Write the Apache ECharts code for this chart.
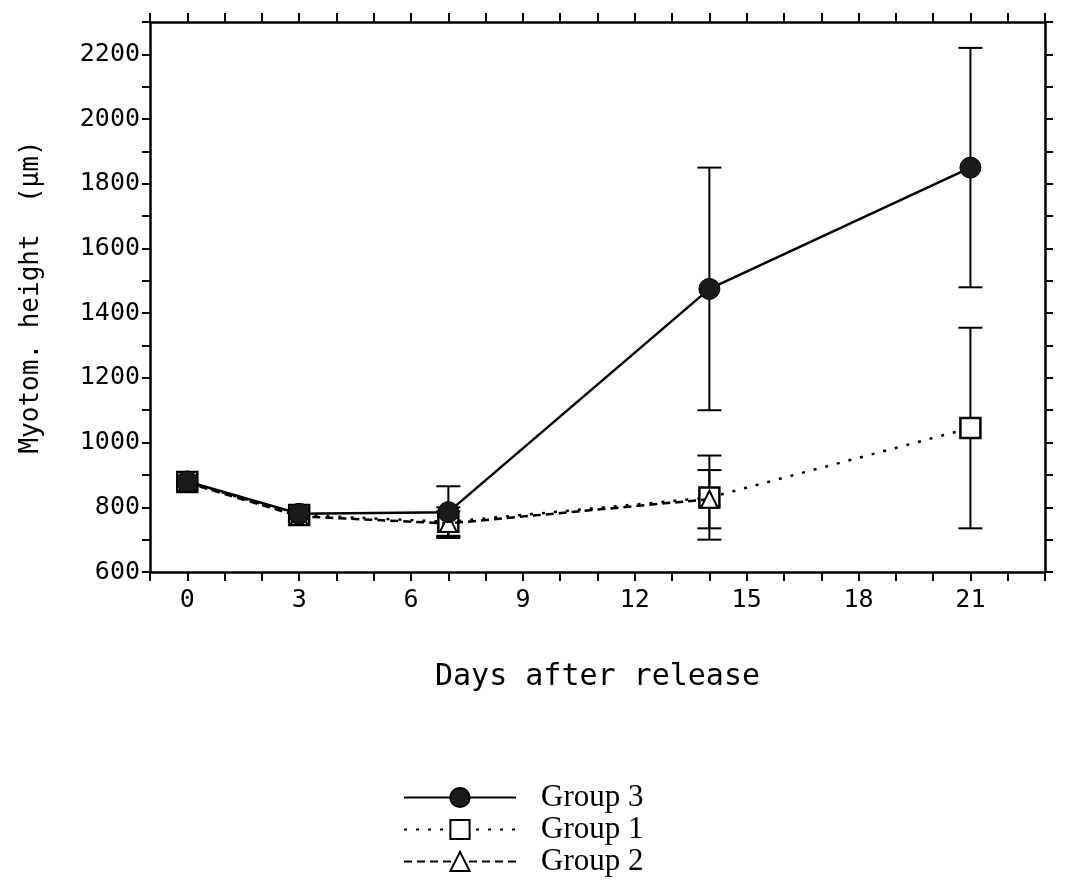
<!DOCTYPE html>
<html>
<head>
<meta charset="utf-8">
<script src="https://cdn.jsdelivr.net/npm/echarts@6/dist/echarts.min.js"></script>
<style>
html,body{margin:0;padding:0;background:#fff;}
#chart{width:1065px;height:890px;}
</style>
</head>
<body>
<div id="chart"></div>
<script>
// ---- data ----
const group3Days = [0, 3, 7, 14, 21];
const group3Mean = [880, 780, 785, 1475, 1850];
const group3SD   = [null, null, 80, 375, 370];

const group1Days = [0, 3, 7, 14, 21];
const group1Mean = [878, 776, 755, 830, 1045];
const group1SD   = [null, null, 45, 130, 310];

const group2Days = [0, 3, 7, 14];
const group2Mean = [876, 772, 750, 825];
const group2SD   = [null, null, 38, 90];

const xTickLabels = [0, 3, 6, 9, 12, 15, 18, 21];
const yTickLabels = [600, 800, 1000, 1200, 1400, 1600, 1800, 2000, 2200];

const legendOrder = ['Group 3', 'Group 1', 'Group 2'];

// ---- helpers ----
function pts(days, mean) { return days.map((d, i) => [d, mean[i]]); }
function errs(days, mean, sd) {
  const out = [];
  days.forEach((d, i) => { if (sd[i] != null) out.push([d, mean[i] - sd[i], mean[i] + sd[i]]); });
  return out;
}
function errorBarRender(params, api) {
  const x = api.value(0), lo = api.value(1), hi = api.value(2);
  const a = api.coord([x, lo]), b = api.coord([x, hi]);
  const hw = 12;
  const st = { stroke: '#000', lineWidth: 2 };
  return {
    type: 'group',
    children: [
      { type: 'line', shape: { x1: a[0], y1: a[1], x2: b[0], y2: b[1] }, style: st },
      { type: 'line', shape: { x1: a[0] - hw, y1: a[1], x2: a[0] + hw, y2: a[1] }, style: st },
      { type: 'line', shape: { x1: b[0] - hw, y1: b[1], x2: b[0] + hw, y2: b[1] }, style: st }
    ]
  };
}

const monoFont = 'DejaVu Sans Mono';
const axisLineStyle = { color: '#000', width: 2.5 };

const chart = echarts.init(document.getElementById('chart'), null, { renderer: 'canvas' });

const option = {
  backgroundColor: '#fff',
  animation: false,
  grid: { left: 150, right: 20, top: 22, bottom: 318 },
  legend: {
    data: legendOrder,
    orient: 'vertical',
    left: 403,
    top: 782,
    height: 110,
    padding: 0,
    itemWidth: 112,
    itemHeight: 24,
    itemGap: 1,
    textStyle: { fontFamily: 'Liberation Serif', fontSize: 31, lineHeight: 26, color: '#000', padding: [0, 0, 0, 20] }
  },
  xAxis: [
    {
      type: 'value', position: 'bottom', min: -1, max: 23, interval: 1,
      name: 'Days after release', nameLocation: 'middle', nameGap: 90,
      nameTextStyle: { fontFamily: monoFont, fontSize: 30, color: '#000' },
      axisLine: { show: true, onZero: false, lineStyle: axisLineStyle },
      axisTick: { show: true, inside: false, length: 9, lineStyle: { color: '#000', width: 2 } },
      axisLabel: {
        margin: 16, fontFamily: monoFont, fontSize: 25, color: '#000',
        formatter: v => xTickLabels.indexOf(v) >= 0 ? String(v) : ''
      },
      splitLine: { show: false }
    },
    {
      type: 'value', position: 'top', min: -1, max: 23, interval: 1,
      axisLine: { show: true, onZero: false, lineStyle: axisLineStyle },
      axisTick: { show: true, inside: false, length: 9, lineStyle: { color: '#000', width: 2 } },
      axisLabel: { show: false },
      splitLine: { show: false }
    }
  ],
  yAxis: [
    {
      type: 'value', position: 'left', min: 600, max: 2300, interval: 100,
      name: 'Myotom. height  (µm)', nameLocation: 'middle', nameGap: 106,
      nameTextStyle: { fontFamily: monoFont, fontSize: 26, color: '#000' },
      axisLine: { show: true, onZero: false, lineStyle: axisLineStyle },
      axisTick: { show: true, inside: false, length: 8, lineStyle: { color: '#000', width: 2 } },
      axisLabel: {
        margin: 10, fontFamily: monoFont, fontSize: 25, color: '#000',
        formatter: v => yTickLabels.indexOf(v) >= 0 ? String(v) : ''
      },
      splitLine: { show: false }
    },
    {
      type: 'value', position: 'right', min: 600, max: 2300, interval: 100,
      axisLine: { show: true, onZero: false, lineStyle: axisLineStyle },
      axisTick: { show: true, inside: false, length: 8, lineStyle: { color: '#000', width: 2 } },
      axisLabel: { show: false },
      splitLine: { show: false }
    }
  ],
  series: [
    {
      type: 'custom', name: 'err1', renderItem: errorBarRender, z: 1,
      encode: { x: 0, y: [1, 2] }, data: errs(group1Days, group1Mean, group1SD)
    },
    {
      type: 'custom', name: 'err2', renderItem: errorBarRender, z: 1,
      encode: { x: 0, y: [1, 2] }, data: errs(group2Days, group2Mean, group2SD)
    },
    {
      type: 'custom', name: 'err3', renderItem: errorBarRender, z: 1,
      encode: { x: 0, y: [1, 2] }, data: errs(group3Days, group3Mean, group3SD)
    },
    {
      name: 'Group 1', type: 'line', data: pts(group1Days, group1Mean), z: 3,
      symbol: 'rect', symbolSize: 20,
      itemStyle: { color: '#fff', borderColor: '#000', borderWidth: 2.5 },
      lineStyle: { color: '#000', width: 2.5, type: [3, 9] }
    },
    {
      name: 'Group 2', type: 'line', data: pts(group2Days, group2Mean), z: 4,
      symbol: 'triangle', symbolSize: 17,
      itemStyle: { color: '#fff', borderColor: '#000', borderWidth: 2 },
      lineStyle: { color: '#000', width: 2.5, type: [8, 5] }
    },
    {
      name: 'Group 3', type: 'line', data: pts(group3Days, group3Mean), z: 5,
      symbol: 'circle', symbolSize: 21,
      itemStyle: { color: '#1a1a1a', borderColor: '#000', borderWidth: 1 },
      lineStyle: { color: '#000', width: 2.5, type: 'solid' }
    }
  ]
};
chart.setOption(option);
</script>
</body>
</html>
